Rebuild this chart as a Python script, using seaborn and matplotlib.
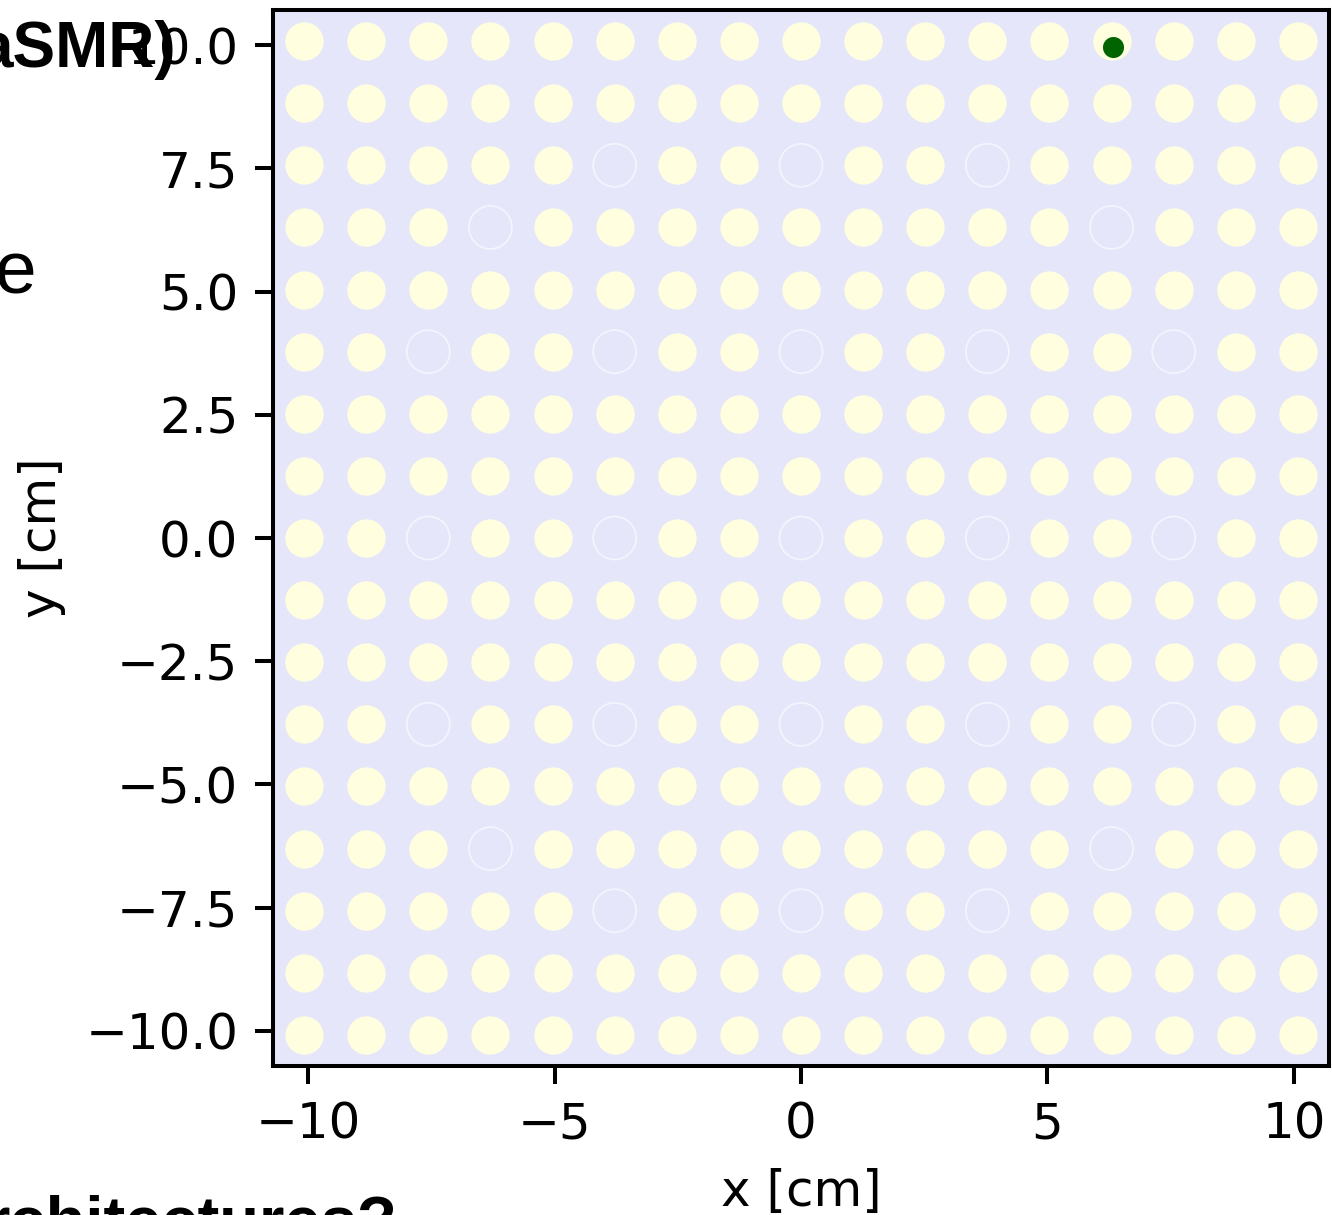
import matplotlib
matplotlib.use("Agg")
import matplotlib.pyplot as plt
import seaborn as sns
import pandas as pd

# 17x17 lattice, pin pitch 1.26 cm
pin_positions = [-10.08, -8.82, -7.56, -6.30, -5.04, -3.78, -2.52, -1.26, 0.0,
                 1.26, 2.52, 3.78, 5.04, 6.30, 7.56, 8.82, 10.08]

# guide / instrument tube cells (row, col), row 0 at the top
guide_tubes = [(2, 5), (2, 8), (2, 11),
               (3, 3), (3, 13),
               (5, 2), (5, 5), (5, 8), (5, 11), (5, 14),
               (8, 2), (8, 5), (8, 8), (8, 11), (8, 14),
               (11, 2), (11, 5), (11, 8), (11, 11), (11, 14),
               (13, 3), (13, 13),
               (14, 5), (14, 8), (14, 11)]

source_x = [6.33]
source_y = [9.96]

x_ticks = [-10, -5, 0, 5, 10]
y_ticks = [-10.0, -7.5, -5.0, -2.5, 0.0, 2.5, 5.0, 7.5, 10.0]
half_width = 10.71


def build_cells():
    fuel, guide = [], []
    for r, y in enumerate(reversed(pin_positions)):
        for c, x in enumerate(pin_positions):
            if (r, c) in guide_tubes:
                guide.append((x, y))
            else:
                fuel.append((x, y))
    return (pd.DataFrame(fuel, columns=["x", "y"]),
            pd.DataFrame(guide, columns=["x", "y"]))


fuel_df, guide_df = build_cells()

fig = plt.figure(figsize=(13.32, 12.15), dpi=100)
ax = fig.add_axes([273 / 1332, 149 / 1215, 1056 / 1332, 1056 / 1215])
ax.set_facecolor("lavender")

sns.scatterplot(data=fuel_df, x="x", y="y", color="lightyellow", s=760,
                linewidth=0, ax=ax, zorder=2)
sns.scatterplot(data=guide_df, x="x", y="y", facecolor="none",
                edgecolor="#f4f4ff", s=960, linewidth=1.3, ax=ax, zorder=2)
sns.scatterplot(x=source_x, y=source_y, color="darkgreen", s=230,
                linewidth=0, ax=ax, zorder=3)

ax.set_xlim(-half_width, half_width)
ax.set_ylim(-half_width, half_width)
ax.set_xticks(x_ticks)
ax.set_yticks(y_ticks)
ax.set_xlabel("x [cm]", fontsize=36, labelpad=14)
ax.set_ylabel("y [cm]", fontsize=36, labelpad=14)
ax.tick_params(labelsize=36, length=13, width=2.9, pad=12)
for sp in ax.spines.values():
    sp.set_linewidth(2.9)
    sp.set_visible(True)

# bits of the surrounding slide text that show in the crop
fig.text(176 / 1332, 1 - 67 / 1215, "aSMR)", ha="right", va="baseline",
         fontsize=46, fontweight="bold", family="Liberation Sans", zorder=10)
fig.text(36 / 1332, 1 - 293 / 1215, "e", ha="right", va="baseline",
         fontsize=54, family="Liberation Sans", zorder=10)
fig.text(397 / 1332, 1 - 1241 / 1215, "rchitectures?", ha="right",
         va="baseline", fontsize=47, fontweight="bold",
         family="Liberation Sans", zorder=10)

fig.savefig("out.png", dpi=100)
